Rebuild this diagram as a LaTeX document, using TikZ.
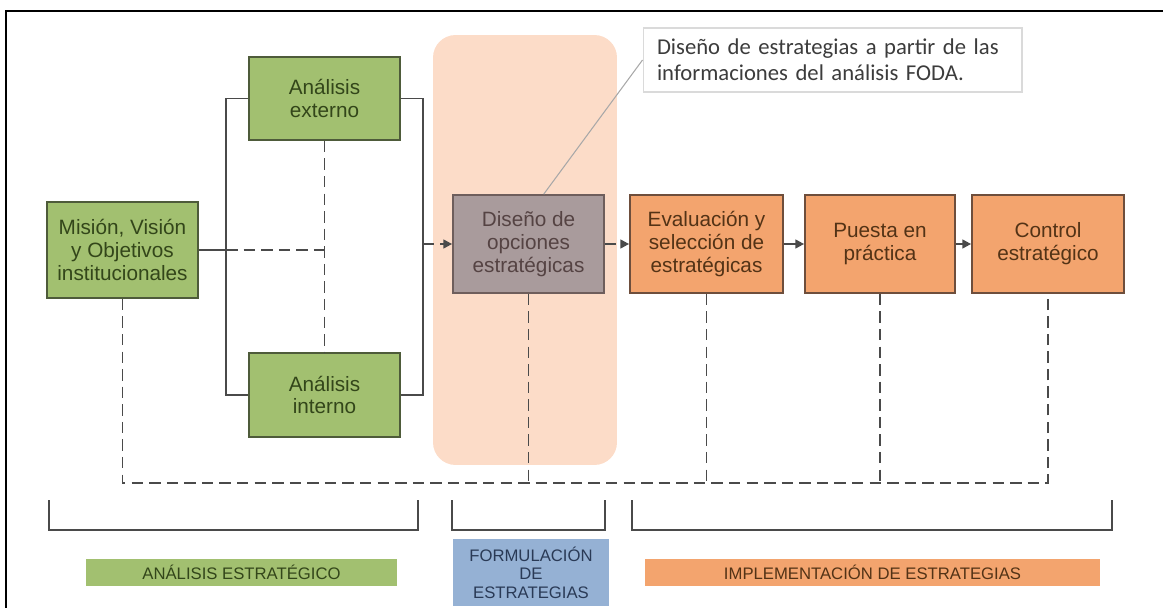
\documentclass[tikz,border=0pt]{standalone}
\usepackage{fontspec}
\setmainfont{Liberation Sans}
\newfontfamily\calloutfont{Carlito}
\usepackage{xcolor}
\usepackage{tikz}
\usetikzlibrary{calc,arrows.meta}

\definecolor{verdeF}{HTML}{A2C070}
\definecolor{verdeB}{HTML}{4E5B3A}
\definecolor{verdeT}{HTML}{33461A}
\definecolor{grisF}{HTML}{A99B9C}
\definecolor{grisB}{HTML}{6E5E5C}
\definecolor{grisT}{HTML}{554343}
\definecolor{naranjaF}{HTML}{F3A46E}
\definecolor{naranjaB}{HTML}{6E4E3C}
\definecolor{naranjaT}{HTML}{533316}
\definecolor{rosaF}{HTML}{FCDCC8}
\definecolor{azulF}{HTML}{95B1D4}
\definecolor{azulT}{HTML}{2A3A56}
\definecolor{lineaC}{HTML}{4A4A4A}
\definecolor{notaB}{HTML}{DADADA}
\definecolor{notaT}{HTML}{3C3C3C}
\definecolor{notaL}{HTML}{A8A8A8}

\newcommand{\cajafont}{\fontsize{11.8}{13}\selectfont}
\newcommand{\etiqfont}{\fontsize{9.5}{10.5}\selectfont}
\newcommand{\notafont}{\calloutfont\fontsize{12.9}{14.8}\selectfont}

\begin{document}
\begin{tikzpicture}[x=0.02cm,y=-0.02cm,
  caja/.style={draw,line width=1pt,align=center,minimum width=3.02cm,
    minimum height=1.96cm,inner sep=2pt,font=\cajafont},
  verde/.style={caja,fill=verdeF,draw=verdeB,text=verdeT},
  gris/.style={caja,fill=grisF,draw=grisB,text=grisT},
  naranja/.style={caja,fill=naranjaF,draw=naranjaB,text=naranjaT},
  linea/.style={draw=lineaC,line width=1.1pt},
  guion/.style={linea,dash pattern=on 6.5pt off 3.5pt},
  flecha/.style={-{Triangle[length=5pt,width=5pt]}},
  etiqueta/.style={align=center,font=\etiqfont,inner sep=0pt,minimum height=0.54cm}]
  \useasboundingbox (0,0) rectangle (1163,608);
  \draw[line width=1.2pt] (6,608) -- (6,11) -- (1163,11);

  % fase de formulacion
  \node[fill=rosaF,rounded corners=0.45cm,minimum width=3.68cm,minimum height=8.6cm] (fondo) at (525,250) {};

  \node[verde,minimum height=1.92cm] (mision) at (122.5,250) {Misión, Visión\\y Objetivos\\institucionales};
  \node[verde,minimum height=1.66cm] (externo) at (324.5,98.5) {Análisis\\externo};
  \node[verde,minimum height=1.68cm] (interno) at (324.5,395) {Análisis\\interno};
  \node[gris] (diseno) at (528.5,244) {Diseño de\\opciones\\estratégicas};
  \node[naranja,minimum width=3.06cm] (evalua) at (706.5,244) {Evaluación y\\selección de\\estratégicas};
  \node[naranja,minimum width=3cm] (puesta) at (880,244) {Puesta en\\práctica};
  \node[naranja,minimum width=3.04cm] (control) at (1048,244) {Control\\estratégico};

  \node[draw=notaB,line width=0.6pt,fill=white,text width=7.02cm,inner xsep=0.28cm,
    inner ysep=0pt,minimum height=1.28cm,align=left,font=\notafont,text=notaT] (nota) at (832.5,60)
    {Diseño de estrategias a partir de las\\informaciones del análisis FODA.};
  \draw[notaL,line width=0.6pt] (diseno.73) -- (nota.west);

  % analisis
  \coordinate (izq) at ($(externo.west)+(-22,0)$);
  \draw[linea] (externo.west) -- (izq) |- (interno.west);
  \draw[linea] (externo.east) -- ++(22,0) coordinate (der) |- (interno.east);
  \draw[linea] (mision.east) -- (mision.east -| izq);
  \draw[guion] (mision.east -| izq) -- (mision.east -| externo.south);
  \draw[guion] (externo.south) -- (interno.north);
  \draw[guion,flecha] (diseno.west -| der) -- (diseno.west);
  \draw[guion,flecha] (diseno.east) -- (evalua.west);
  \draw[linea,flecha] (evalua.east) -- (puesta.west);
  \draw[linea,flecha] (puesta.east) -- (control.west);

  % retroalimentacion
  \coordinate (base) at (0,483);
  \draw[guion] (mision.south) |- (base -| control.south) -- (control.south);
  \foreach \n in {diseno,evalua,puesta}
    \draw[guion] (\n.south) -- (\n.south |- base);

  % fases
  \foreach \a/\b in {49/418,452/605,632/1112}
    \draw[linea,line width=1.2pt] (\a,500) |- (\b,530) -- (\b,500);
  \node[etiqueta,fill=verdeF,text=verdeT,minimum width=6.22cm] (lanalisis) at (241.5,572.5) {ANÁLISIS ESTRATÉGICO};
  \node[etiqueta,fill=azulF,text=azulT,minimum width=3.12cm,minimum height=1.34cm] (lformula) at (531,572.5) {FORMULACIÓN\\DE\\ESTRATEGIAS};
  \node[etiqueta,fill=naranjaF,text=naranjaT,minimum width=9.1cm] (limplementa) at (872.5,572) {IMPLEMENTACIÓN DE ESTRATEGIAS};
\end{tikzpicture}
\end{document}
